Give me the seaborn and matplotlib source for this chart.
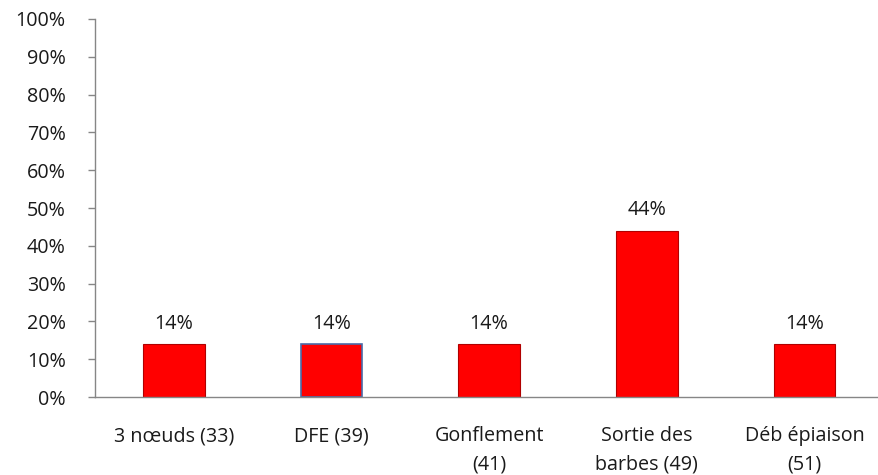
import pandas as pd
import matplotlib.pyplot as plt
import seaborn as sns
import numpy as np

# data
stades = ["3 nœuds (33)", "DFE (39)", "Gonflement\n(41)", "Sortie des\nbarbes (49)", "Déb épiaison\n(51)"]
parts = [0.14, 0.14, 0.14, 0.44, 0.14]
y_ticks = [0.0, 0.1, 0.2, 0.3, 0.4, 0.5, 0.6, 0.7, 0.8, 0.9, 1.0]

df = pd.DataFrame({"stade": stades, "part": parts})

sns.set_style("white")
plt.rcParams["font.family"] = ["Open Sans", "DejaVu Sans"]

fig, ax = plt.subplots(figsize=(8.79, 4.75), dpi=100)
fig.subplots_adjust(left=0.108, right=1.005, top=0.96, bottom=0.164)

sns.barplot(data=df, x="stade", y="part", color="#FF0000", width=0.39,
            edgecolor="#B00000", linewidth=0.8, saturation=1, ax=ax)

# DFE bar has a blue outline in the original
ax.patches[1].set_edgecolor("#4A6BA8")
ax.patches[1].set_linewidth(1.2)

fs = 14.2
for p, v in zip(ax.patches, parts):
    ax.text(p.get_x() + p.get_width() / 2, p.get_height() + 0.028,
            f"{v:.0%}", ha="center", va="bottom", fontsize=fs, color="#1a1a1a")

ax.set_ylim(0, 1.0)
ax.set_xlim(-0.5, len(stades) - 0.5)
ax.set_yticks(y_ticks)
ax.set_yticklabels([f"{t:.0%}" for t in y_ticks], fontsize=fs, color="#1a1a1a")

# category labels centred, tick marks between categories
ax.set_xticks(range(len(stades)))
ax.set_xticklabels(stades, fontsize=fs, color="#1a1a1a", linespacing=1.55)
ax.tick_params(axis="x", length=0, pad=21)
ax.set_xticks(np.arange(0.5, len(stades) - 1, 1.0), minor=True)
ax.tick_params(axis="x", which="minor", length=5, color="#868686", width=1)
ax.tick_params(axis="y", length=5, color="#868686", width=1, left=True, pad=16)

ax.set_xlabel("")
ax.set_ylabel("")
for side in ["top", "right"]:
    ax.spines[side].set_visible(False)
for side in ["left", "bottom"]:
    ax.spines[side].set_color("#868686")
    ax.spines[side].set_linewidth(1)

plt.savefig("out.png", dpi=100)
